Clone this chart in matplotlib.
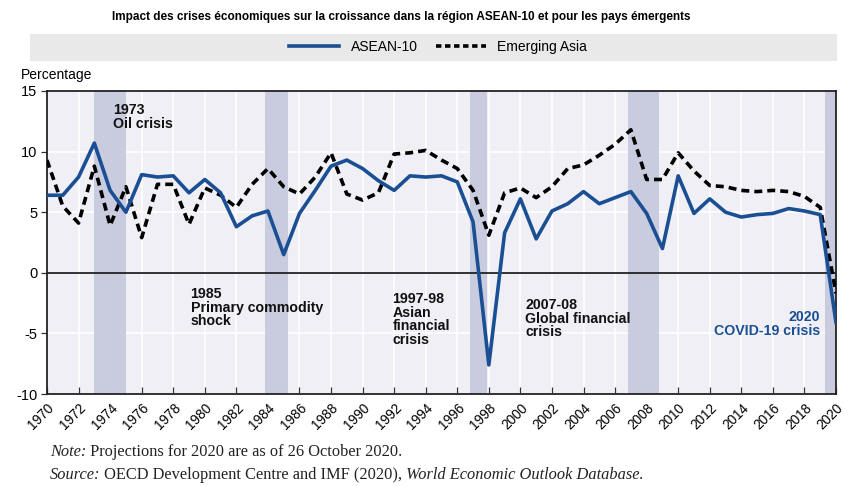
import matplotlib
matplotlib.use("Agg")
import matplotlib.pyplot as plt
from matplotlib.patches import Rectangle
from matplotlib.lines import Line2D

years = list(range(1970, 2021))
asean10 = [6.4, 6.4, 7.9, 10.7, 6.8, 5.0, 8.1, 7.9, 8.0, 6.6,
           7.7, 6.6, 3.8, 4.7, 5.1, 1.5, 4.9, 6.8, 8.8, 9.3,
           8.6, 7.6, 6.8, 8.0, 7.9, 8.0, 7.5, 4.2, -7.6, 3.3,
           6.1, 2.8, 5.1, 5.7, 6.7, 5.7, 6.2, 6.7, 4.9, 2.0,
           8.0, 4.9, 6.1, 5.0, 4.6, 4.8, 4.9, 5.3, 5.1, 4.8, -4.1]
emerging_asia = [9.3, 5.5, 4.1, 8.8, 3.9, 7.1, 2.9, 7.3, 7.3, 4.0,
                 7.0, 6.4, 5.4, 7.3, 8.6, 7.1, 6.5, 7.9, 9.9, 6.5,
                 6.0, 6.6, 9.8, 9.9, 10.1, 9.3, 8.6, 6.8, 3.1, 6.6,
                 7.0, 6.2, 7.1, 8.6, 8.9, 9.7, 10.6, 11.8, 7.7, 7.7,
                 9.9, 8.4, 7.2, 7.1, 6.8, 6.7, 6.8, 6.7, 6.3, 5.4, -1.7]
crisis_bands = [(1973, 1975), (1983.8, 1985.3), (1996.8, 1997.9), (2006.8, 2008.8), (2019.3, 2020)]
crisis_labels = ["1973\nOil crisis", "1985\nPrimary commodity\nshock",
                 "1997-98\nAsian\nfinancial\ncrisis", "2007-08\nGlobal financial\ncrisis",
                 "2020\nCOVID-19 crisis"]
label_pos = [(1974.2, 14.0), (1979.1, -1.2), (1991.9, -1.6), (2000.3, -2.1), (2019.0, -3.1)]
xtick_years = list(range(1970, 2021, 2))
yticks = [-10, -5, 0, 5, 10, 15]

BLUE = "#1b4f93"
SANS = ["Liberation Sans", "DejaVu Sans"]
SERIF = ["Liberation Serif", "DejaVu Serif"]
plt.rcParams['font.family'] = SANS

fig = plt.figure(figsize=(8.52, 4.86), dpi=100)
W, H = 852, 486
ax = fig.add_axes([47 / W, 1 - 394 / H, (836 - 47) / W, (394 - 91) / H])
ax.set_facecolor("#efeff5")
ax.set_xlim(1970, 2020)
ax.set_ylim(-10, 15)

for a, b in crisis_bands:
    ax.axvspan(a, b, color="#c9cbdf", zorder=1, lw=0)

ax.set_xticks(xtick_years)
ax.set_xticklabels([str(y) for y in xtick_years], rotation=45, ha="right",
                   rotation_mode="anchor", fontsize=9.8)
ax.set_yticks(yticks)
ax.set_yticklabels([str(v) for v in yticks], fontsize=10.5)
ax.grid(True, color="white", lw=1.2, zorder=0)
ax.set_axisbelow(True)
ax.tick_params(axis="x", direction="in", length=5, width=0.9, color="#333333", pad=5)
ax.tick_params(axis="y", direction="out", length=4, width=0.9, color="#333333", pad=3)
for s in ax.spines.values():
    s.set_color("#222222")
    s.set_linewidth(1.3)
ax.axhline(0, color="#222222", lw=1.3, zorder=2)

ax.plot(years, asean10, color=BLUE, lw=2.6, zorder=4)
ax.plot(years, emerging_asia, color="black", lw=2.6, ls=(0, (2.2, 1.4)), zorder=3)

for i, (txt, (x, y)) in enumerate(zip(crisis_labels, label_pos)):
    if i == 4:
        ax.text(x, y, txt, ha="right", va="top", fontsize=10.2, fontweight="bold",
                color=BLUE, linespacing=0.95, zorder=5)
    else:
        ax.text(x, y, txt, ha="left", va="top", fontsize=10.2, fontweight="bold",
                color="#111111", linespacing=0.95, zorder=5)

# legend box
fig.patches.append(Rectangle((30 / W, 1 - 61 / H), (837 - 30) / W, 27 / H,
                             transform=fig.transFigure, facecolor="#e9e9e9",
                             edgecolor="none", zorder=0))
handles = [Line2D([], [], color=BLUE, lw=2.6),
           Line2D([], [], color="black", lw=2.6, ls=(0, (1.5, 1.0)))]
fig.legend(handles, ["ASEAN-10", "Emerging Asia"], loc="center",
           bbox_to_anchor=(438 / W, 1 - 47 / H), ncol=2, frameon=False,
           fontsize=10, handlelength=3.6, columnspacing=1.3, handletextpad=0.8)

fig.text(112 / W, 1 - 17 / H,
         "Impact des crises économiques sur la croissance dans la région ASEAN-10 et pour les pays émergents",
         fontsize=8.5, fontweight="bold", va="center", ha="left")
fig.text(21 / W, 1 - 75 / H, "Percentage", fontsize=10, va="center", ha="left")

renderer = fig.canvas.get_renderer()


def chain(x_px, y_px, parts):
    x = x_px
    for txt, style in parts:
        t = fig.text(x / W, 1 - y_px / H, txt, fontsize=11.8, va="center", ha="left",
                     family=SERIF, style=style, color="#222222")
        bb = t.get_window_extent(renderer=renderer)
        x += bb.width


chain(50, 452, [("Note:", "italic"), (" Projections for 2020 are as of 26 October 2020.", "normal")])
chain(50, 475, [("Source:", "italic"), (" OECD Development Centre and IMF (2020),", "normal"),
                ("\u00a0World Economic Outlook Database.", "italic")])

fig.savefig("out.png", dpi=100)
